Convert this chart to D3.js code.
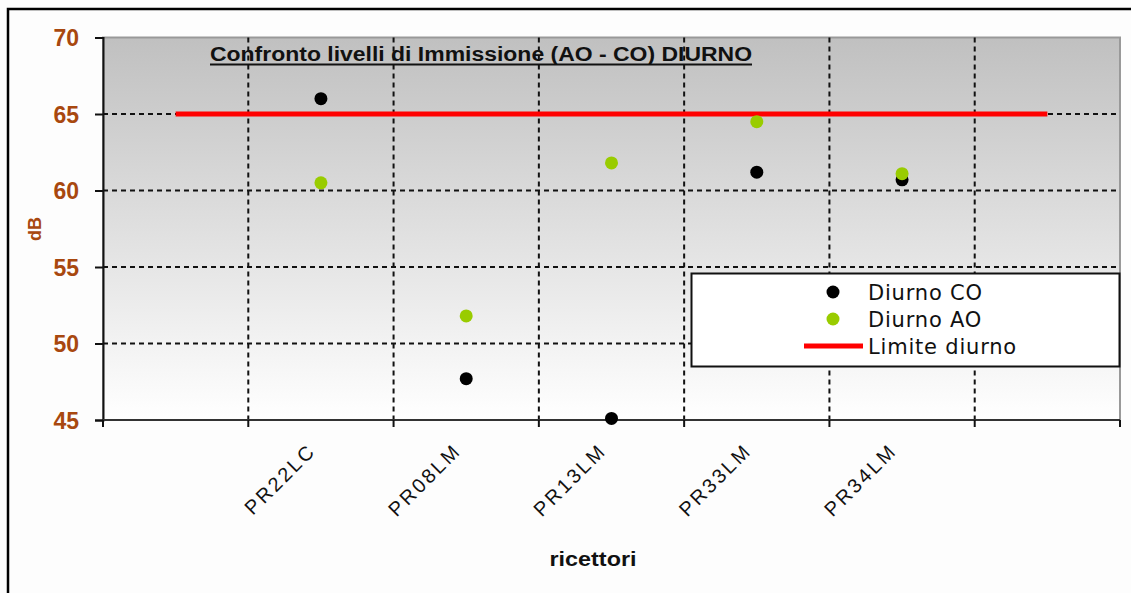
<!DOCTYPE html>
<html>
<head>
<meta charset="utf-8">
<script src="https://cdn.jsdelivr.net/npm/d3@7"></script>
<style>
  html, body { margin: 0; padding: 0; background: #fdfdfd; }
  svg { display: block; }
</style>
</head>
<body>
<svg id="chart" width="1131" height="593"></svg>
<script>
// Receptor slots: the first and last slots are empty, the limit line spans all of them
const categories = ["", "PR22LC", "PR08LM", "PR13LM", "PR33LM", "PR34LM", ""];
const diurnoCO = [null, 66.0, 47.7, 45.1, 61.2, 60.7, null];
const diurnoAO = [null, 60.5, 51.8, 61.8, 64.5, 61.1, null];
const limiteDiurno = [65, 65, 65, 65, 65, 65, 65];
const yTicks = [45, 50, 55, 60, 65, 70];

const title = "Confronto livelli di Immissione (AO - CO) DIURNO";
const yTitle = "dB";
const xTitle = "ricettori";
const legendItems = [
  { name: "Diurno CO", type: "dot", color: "#000000" },
  { name: "Diurno AO", type: "dot", color: "#99cc00" },
  { name: "Limite diurno", type: "line", color: "#ff0000" }
];

const svg = d3.select("#chart");
const W = 1131, H = 593;
const plot = { left: 103, top: 37.5, right: 1120, bottom: 420 };
const axisColor = "#a8480f";

// outer frame
svg.append("rect").attr("x", 0).attr("y", 0).attr("width", W).attr("height", H).attr("fill", "#fdfdfd");
svg.append("rect").attr("x", 8).attr("y", 9).attr("width", 1300).attr("height", 800)
  .attr("fill", "none").attr("stroke", "#000").attr("stroke-width", 2.5);

const idx = d3.range(categories.length);
const x = d3.scaleBand().domain(idx).range([plot.left, plot.right]).paddingInner(0).paddingOuter(0);
const y = d3.scaleLinear().domain([45, 70]).range([plot.bottom, plot.top]);

// plot background gradient
const defs = svg.append("defs");
const grad = defs.append("linearGradient").attr("id", "plotBg").attr("x1", 0).attr("y1", 0).attr("x2", 0).attr("y2", 1);
grad.append("stop").attr("offset", "0%").attr("stop-color", "#c0c0c0");
grad.append("stop").attr("offset", "100%").attr("stop-color", "#ffffff");

svg.append("rect")
  .attr("x", plot.left).attr("y", plot.top)
  .attr("width", plot.right - plot.left).attr("height", plot.bottom - plot.top)
  .attr("fill", "url(#plotBg)")
  .attr("stroke", "#999").attr("stroke-width", 2);

// horizontal grid lines
svg.append("g").selectAll("line")
  .data(yTicks.filter(v => v > 45 && v < 70))
  .join("line")
  .attr("x1", plot.left).attr("x2", plot.right)
  .attr("y1", d => y(d)).attr("y2", d => y(d))
  .attr("stroke", "#111").attr("stroke-width", 2).attr("stroke-dasharray", "5,4");

// vertical grid lines at slot boundaries
svg.append("g").selectAll("line")
  .data(idx.slice(1))
  .join("line")
  .attr("x1", d => x(d)).attr("x2", d => x(d))
  .attr("y1", plot.top).attr("y2", plot.bottom)
  .attr("stroke", "#111").attr("stroke-width", 2).attr("stroke-dasharray", "5,4");

// y axis
const yAxis = svg.append("g").attr("transform", `translate(${plot.left},0)`)
  .call(d3.axisLeft(y).tickValues(yTicks).tickSize(8).tickPadding(16).tickFormat(d3.format("d")));
yAxis.select(".domain").attr("stroke", "#111").attr("stroke-width", 2);
yAxis.selectAll(".tick line").attr("stroke", "#111").attr("stroke-width", 2);
yAxis.selectAll(".tick text")
  .attr("fill", axisColor).attr("font-family", "'Liberation Sans', Arial, sans-serif")
  .attr("font-weight", "bold").attr("font-size", 23).attr("dy", "0.36em");

// x axis line with ticks at slot boundaries
const xb = svg.append("g").attr("transform", `translate(0,${plot.bottom})`);
xb.append("line").attr("x1", plot.left).attr("x2", plot.right)
  .attr("stroke", "#333").attr("stroke-width", 2.2);
xb.selectAll("line.tk").data(idx.concat([categories.length]))
  .join("line").attr("class", "tk")
  .attr("x1", d => d < categories.length ? x(d) : plot.right)
  .attr("x2", d => d < categories.length ? x(d) : plot.right)
  .attr("y1", 0).attr("y2", 7)
  .attr("stroke", "#111").attr("stroke-width", 2);

// rotated category labels
svg.append("g").selectAll("text")
  .data(idx.filter(i => categories[i] !== ""))
  .join("text")
  .attr("transform", i => `translate(${x(i) + x.bandwidth() / 2 - 4},452) rotate(-45)`)
  .attr("text-anchor", "end")
  .attr("font-family", "'Liberation Sans', Arial, sans-serif")
  .attr("font-size", 20)
  .attr("letter-spacing", "2.5px")
  .attr("fill", "#111")
  .text(i => categories[i]);

// limit line
const line = d3.line().x((d, i) => x(i) + x.bandwidth() / 2).y(d => y(d));
svg.append("path").datum(limiteDiurno)
  .attr("d", line).attr("fill", "none")
  .attr("stroke", "#ff0000").attr("stroke-width", 5);

// point series
function drawDots(values, color) {
  svg.append("g").selectAll("circle")
    .data(values.map((v, i) => ({ v, i })).filter(d => d.v !== null))
    .join("circle")
    .attr("cx", d => x(d.i) + x.bandwidth() / 2)
    .attr("cy", d => y(d.v))
    .attr("r", 6.5)
    .attr("fill", color);
}
drawDots(diurnoCO, "#000000");
drawDots(diurnoAO, "#99cc00");

// title
svg.append("text")
  .attr("x", 210).attr("y", 61)
  .attr("font-family", "'Liberation Sans', Arial, sans-serif")
  .attr("font-weight", "bold").attr("font-size", 20)
  .attr("textLength", 542).attr("lengthAdjust", "spacingAndGlyphs")
  .attr("fill", "#111")
  .text(title);
svg.append("line").attr("x1", 210).attr("x2", 752).attr("y1", 64.5).attr("y2", 64.5)
  .attr("stroke", "#111").attr("stroke-width", 2);

// axis titles
svg.append("text")
  .attr("transform", "translate(41,229) rotate(-90)")
  .attr("text-anchor", "middle")
  .attr("font-family", "'Liberation Sans', Arial, sans-serif")
  .attr("font-weight", "bold").attr("font-size", 18)
  .attr("fill", axisColor)
  .text(yTitle);

svg.append("text")
  .attr("x", 593).attr("y", 566)
  .attr("text-anchor", "middle")
  .attr("font-family", "'Liberation Sans', Arial, sans-serif")
  .attr("font-weight", "bold").attr("font-size", 20)
  .attr("textLength", 87).attr("lengthAdjust", "spacingAndGlyphs")
  .attr("fill", "#111")
  .text(xTitle);

// legend
const lg = svg.append("g");
lg.append("rect").attr("x", 691.5).attr("y", 273.5).attr("width", 428).attr("height", 93)
  .attr("fill", "#fff").attr("stroke", "#111").attr("stroke-width", 2);
const rowY = d3.scalePoint().domain(legendItems.map(d => d.name)).range([292, 346]);
legendItems.forEach(item => {
  const cy = rowY(item.name);
  if (item.type === "dot") {
    lg.append("circle").attr("cx", 833).attr("cy", cy).attr("r", 6.5).attr("fill", item.color);
  } else {
    lg.append("line").attr("x1", 804).attr("x2", 863).attr("y1", cy).attr("y2", cy)
      .attr("stroke", item.color).attr("stroke-width", 5);
  }
  lg.append("text")
    .attr("x", 868).attr("y", cy + 8)
    .attr("font-family", "'DejaVu Sans', Verdana, sans-serif")
    .attr("font-size", 21)
    .attr("letter-spacing", "0.8px")
    .attr("fill", "#111")
    .text(item.name);
});
</script>
</body>
</html>
